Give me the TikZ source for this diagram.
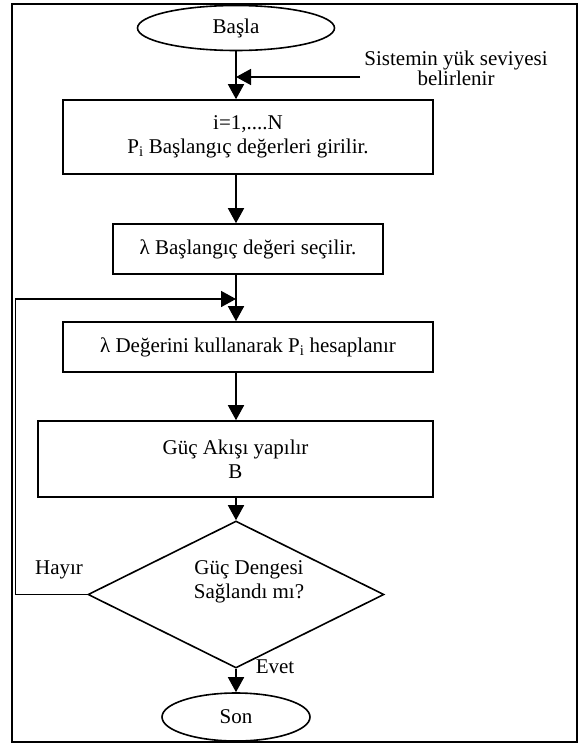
\documentclass[tikz,border=0pt]{standalone}
\usepackage{fontspec}
\setmainfont{Liberation Serif}
\usetikzlibrary{shapes.geometric,arrows.meta}
\tikzset{
  box/.style={draw,line width=1.6pt,rectangle,inner sep=0pt,align=center},
  oval/.style={draw,line width=1.6pt,ellipse,inner sep=0pt},
  dia/.style={draw,line width=1.6pt,diamond,inner sep=0pt},
  lbl/.style={inner sep=0pt,align=center},
  arr/.style={line width=1.6pt,-{Triangle[length=15pt,width=16pt]}},
  ln/.style={line width=1.6pt}
}
\begin{document}
\begin{tikzpicture}[x=1pt,y=-1pt,font=\fontsize{21}{24}\selectfont]
\useasboundingbox (0,0) rectangle (583,747);
\draw[line width=2pt] (12,4) rectangle (577,742);
\coordinate (ax) at (236,0);
\node[oval,minimum width=197pt,minimum height=45pt] (start) at (236,28) {Başla};
\node[lbl,font=\fontsize{21}{19}\selectfont] (sys) at (456,68) {Sistemin yük seviyesi\\belirlenir};
\coordinate (inp) at (360,77);
\node[box,minimum width=370pt,minimum height=74pt] (b1) at (248,137) {i=1,....N\\P\textsubscript{i} Başlangıç değerleri girilir.};
\node[box,minimum width=270pt,minimum height=50pt] (b2) at (248,249) {λ Başlangıç değeri seçilir.};
\node[box,minimum width=370pt,minimum height=50pt] (b3) at (248,347) {λ Değerini kullanarak P\textsubscript{i} hesaplanır};
\node[box,minimum width=395pt,minimum height=76pt] (b4) at (235.5,459) {Güç Akışı yapılır\\B};
\node[dia,minimum width=296pt,minimum height=147pt] (d) at (236,594.5) {};
\node[lbl] (dt) at (249,582) {Güç Dengesi\\Sağlandı mı?};
\node[oval,minimum width=148pt,minimum height=48pt] (end) at (236,717) {Son};
\node[lbl] (hayir) at (59,570) {Hayır};
\node[lbl] (evet) at (275,667) {Evet};
\coordinate (lp) at (15.5,299);
\draw[arr] (start.south) -- (ax |- b1.north);
\draw[arr] (inp) -- (inp -| ax);
\draw[arr] (ax |- b1.south) -- (ax |- b2.north);
\draw[arr] (ax |- b2.south) -- (ax |- b3.north);
\draw[arr] (d.west) -| (lp) -- (lp -| ax);
\draw[arr] (ax |- b3.south) -- (ax |- b4.north);
\draw[arr] (ax |- b4.south) -- (d.north);
\draw[arr] (d.south) -- (end.north);
\end{tikzpicture}
\end{document}
